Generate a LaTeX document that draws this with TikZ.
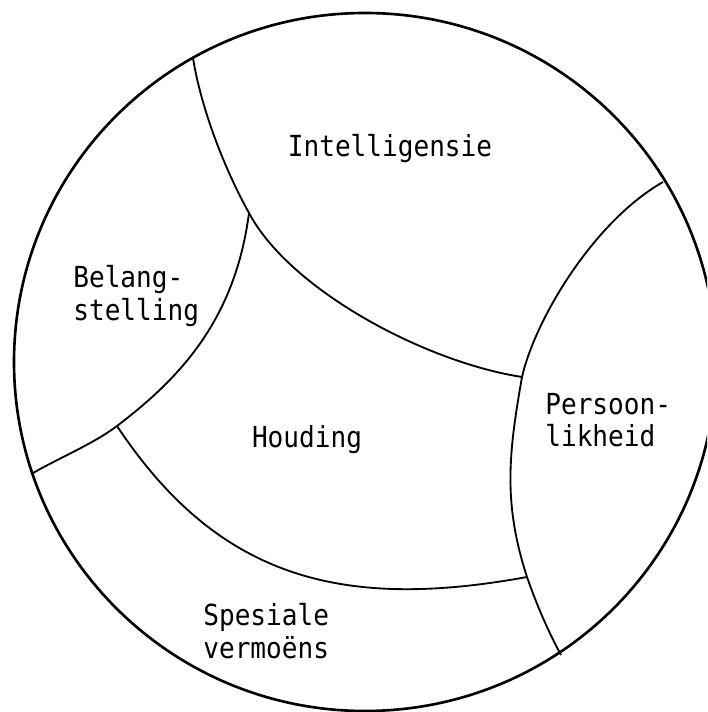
\documentclass[tikz,border=0pt]{standalone}
\usepackage{fontspec}
\newfontfamily\typefont[FakeStretch=0.9]{DejaVu Sans Mono}
\begin{document}
\begin{tikzpicture}[x=0.02cm, y=-0.02cm,
  rim/.style={line width=1.5pt},
  divide/.style={line width=1.05pt, line join=round},
  field/.style={inner sep=0pt, align=left, font=\typefont\fontsize{16.5}{18.5}\selectfont}]
\useasboundingbox (0,0) rectangle (707,712);
\clip (0,0) rectangle (707,712);

% outer ring
\draw[rim] (365,362) ellipse[x radius=351, y radius=349];

% meeting points of the fields
\coordinate (ib)  at (193,58);
\coordinate (ibh) at (249,213);
\coordinate (ihp) at (522,377);
\coordinate (ip)  at (663,182);
\coordinate (bhs) at (117,426);
\coordinate (bs)  at (33,473);
\coordinate (hsp) at (527,577);
\coordinate (sp)  at (561,655);

% Intelligensie
\draw[divide] (ib) .. controls (201,108) and (224,168) .. (ibh)
  .. controls (290,290) and (425,362) .. (ihp);
% Persoonlikheid
\draw[divide] (ip) .. controls (593,222) and (535,320) .. (ihp)
  .. controls (508.5,454) and (503,503) .. (hsp)
  .. controls (537,606) and (549,633) .. (sp);
% Belangstelling
\draw[divide] (ibh) .. controls (235,320) and (180,378) .. (bhs)
  .. controls (93,444) and (59,458) .. (bs);
% Houding
\draw[divide] (bhs) .. controls (218,578) and (341,611) .. (hsp);

% labels
\node[field, anchor=base] (intel) at (390,157) {Intelligensie};
\node[field, anchor=north west] (belang) at (73,265) {Belang-\\stelling};
\node[field, anchor=base] (houding) at (307,447) {Houding};
\node[field, anchor=north west] (persoon) at (545,393) {Persoon-\\likheid};
\node[field, anchor=north west] (spesiaal) at (203,603) {Spesiale\\vermoëns};
\end{tikzpicture}
\end{document}
